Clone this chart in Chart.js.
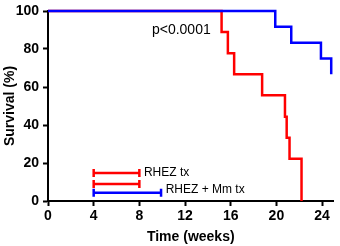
<!DOCTYPE html>
<html>
<head>
<meta charset="utf-8">
<script src="https://cdn.jsdelivr.net/npm/chart.js@4.4.1/dist/chart.umd.min.js"></script>
<style>
  html, body { margin: 0; padding: 0; background: #fff; }
  #wrap { width: 340px; height: 246px; }
</style>
</head>
<body>
<div id="wrap"><canvas id="survivalChart"></canvas></div>
<script>
// Kaplan-Meier steps: week of each death, % surviving after it
const rhezWeeks = [0, 15.2, 15.75, 16.3, 18.75, 20.75, 20.9, 21.15, 22.2];
const rhezSurvival = [100, 88.9, 77.8, 66.7, 55.6, 44.4, 33.3, 22.2, 0];
const mmWeeks = [0, 19.9, 21.3, 23.9, 24.8];
const mmSurvival = [100, 91.7, 83.3, 75, 66.7];

// treatment windows (weeks) and the level they sit at on the y scale
const txGroup = ['RHEZ', 'RHEZ', 'RHEZ + Mm'];
const txStart = [4, 4, 4];
const txEnd = [8, 8, 9.9];
const txLevel = [14.7, 9, 4.3];

const xTicks = [0, 4, 8, 12, 16, 20, 24];
const yTicks = [0, 20, 40, 60, 80, 100];

// text placed in data units
const statNote = { text: 'p<0.0001', x: 9.1, y: 89.7 };
const txLabels = [
    { text: 'RHEZ tx', x: 8.4, y: 14.8 },
    { text: 'RHEZ + Mm tx', x: 10.3, y: 6 }
];

const FONT = "'Liberation Sans', Arial, Helvetica, sans-serif";
const RED = '#ff0000';
const BLUE = '#0000ff';

function toPoints(xs, ys) {
    return xs.map(function(x, i) { return { x: x, y: ys[i] }; });
}

const datasets = [
    // blue first so it sits on top of red along the 100% line
    { data: toPoints(mmWeeks, mmSurvival), borderColor: BLUE, borderWidth: 2.5, stepped: true, pointRadius: 0, clip: 4 },
    { data: toPoints(rhezWeeks, rhezSurvival), borderColor: RED, borderWidth: 2.5, stepped: true, pointRadius: 0, clip: 4 }
];

txStart.forEach(function(start, i) {
    const c = txGroup[i] === 'RHEZ' ? RED : BLUE;
    datasets.push({
        data: [{ x: start, y: txLevel[i] }, { x: txEnd[i], y: txLevel[i] }],
        borderColor: c,
        borderWidth: 2.5,
        pointStyle: 'line',
        rotation: 90,
        pointRadius: 4,
        pointHoverRadius: 4,
        pointBorderColor: c,
        pointBorderWidth: 2.5,
        clip: 4
    });
});

// draws the p value and the treatment labels
const notesPlugin = {
    id: 'notes',
    afterDatasetsDraw: function(chart) {
        const ctx = chart.ctx;
        const xs = chart.scales.x;
        const ys = chart.scales.y;
        ctx.save();
        ctx.fillStyle = '#000';
        ctx.textAlign = 'left';
        ctx.textBaseline = 'middle';
        ctx.font = '14px ' + FONT;
        ctx.fillText(statNote.text, xs.getPixelForValue(statNote.x), ys.getPixelForValue(statNote.y));
        ctx.font = '12px ' + FONT;
        txLabels.forEach(function(l) {
            ctx.fillText(l.text, xs.getPixelForValue(l.x), ys.getPixelForValue(l.y));
        });
        ctx.restore();
    }
};

const tickFont = { family: FONT, size: 14, weight: 'bold', lineHeight: 1 };
const titleFont = { family: FONT, size: 14, weight: 'bold' };

new Chart(document.getElementById('survivalChart'), {
    type: 'line',
    data: { datasets: datasets },
    options: {
        responsive: true,
        maintainAspectRatio: false,
        animation: false,
        layout: { padding: { top: 7, right: 3, left: 0, bottom: 0 } },
        plugins: {
            legend: { display: false },
            tooltip: { enabled: false }
        },
        scales: {
            x: {
                type: 'linear',
                min: 0,
                max: 25,
                afterBuildTicks: function(s) { s.ticks = xTicks.map(function(v) { return { value: v }; }); },
                afterFit: function(s) { s.height = 45; },
                grid: { drawOnChartArea: false, tickLength: 5, tickWidth: 2, tickColor: '#000' },
                border: { color: '#000', width: 2 },
                ticks: { font: tickFont, color: '#000', padding: 3, maxRotation: 0 },
                title: { display: true, text: 'Time (weeks)', font: titleFont, color: '#000', padding: 0 }
            },
            y: {
                min: 0,
                max: 100,
                afterBuildTicks: function(s) { s.ticks = yTicks.map(function(v) { return { value: v }; }); },
                afterFit: function(s) { s.width = 48; },
                grid: { drawOnChartArea: false, tickLength: 5, tickWidth: 2, tickColor: '#000' },
                border: { color: '#000', width: 2 },
                ticks: { font: tickFont, color: '#000', padding: 4 },
                title: { display: true, text: 'Survival (%)', font: titleFont, color: '#000', padding: { top: 2, bottom: 0 } }
            }
        }
    },
    plugins: [notesPlugin]
});
</script>
</body>
</html>
